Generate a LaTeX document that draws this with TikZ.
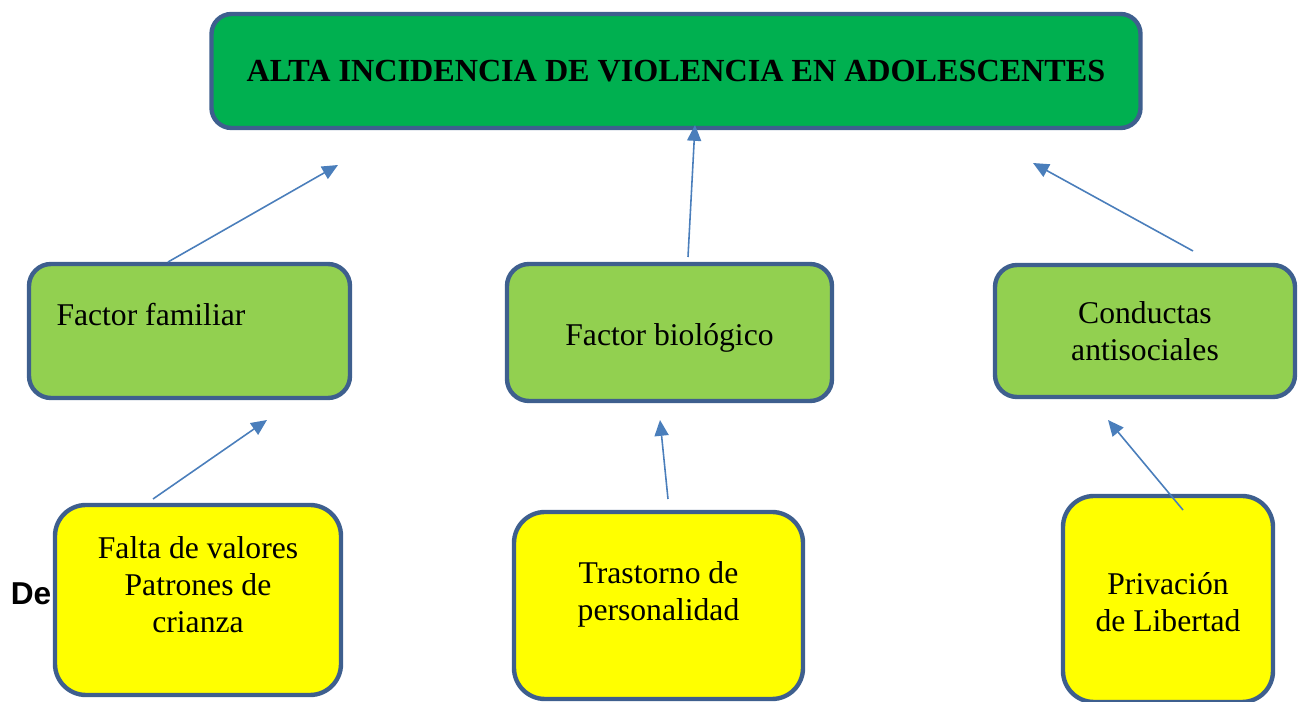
\documentclass[tikz,border=0pt]{standalone}
\usepackage{fontspec}
\setmainfont{Liberation Serif}
\setsansfont{Liberation Sans}
\usepackage{tikz}
\usetikzlibrary{positioning,arrows.meta}
\definecolor{edgeblue}{HTML}{3E5F8E}
\definecolor{arrowblue}{HTML}{4A7EBB}
\definecolor{topgreen}{HTML}{00B050}
\definecolor{causegreen}{HTML}{92D050}
\definecolor{rootyellow}{HTML}{FFFF00}

\begin{document}
\begin{tikzpicture}[
 box/.style={draw=edgeblue,line width=2.5pt,align=center,font=\fontsize{18}{21}\selectfont,inner sep=0pt},
 effect/.style={box,fill=topgreen,rounded corners=0.4cm,font=\fontsize{18.3}{21}\selectfont\bfseries},
 cause/.style={box,fill=causegreen,rounded corners=0.44cm},
 root/.style={box,fill=rootyellow,rounded corners=0.62cm},
 txt/.style={align=center,font=\fontsize{18}{21}\selectfont},
 arr/.style={-{Triangle[length=9pt,width=8pt]},draw=arrowblue,line width=0.9pt}]
\useasboundingbox (0,0) rectangle (26.2,-14.04);
\node[effect,minimum width=18.58cm,minimum height=2.28cm] (titulo) at (13.52,-1.42) {ALTA INCIDENCIA DE VIOLENCIA EN ADOLESCENTES};
% causas directas
\node[cause,minimum width=6.42cm,minimum height=2.68cm,
 label={[txt,anchor=west,xshift=0.47cm,yshift=0.32cm]west:Factor familiar}] (familiar) at (3.79,-6.62) {};
\node[cause,minimum width=6.5cm,minimum height=2.74cm,
 label={[txt,yshift=-0.1cm]center:Factor biológico}] (biologico) at (13.39,-6.65) {};
\node[cause,minimum width=6.0cm,minimum height=2.64cm] (conductas) at (22.9,-6.62) {Conductas\\antisociales};
% causas de fondo
\node[root,minimum width=5.72cm,minimum height=3.8cm,
 label={[txt,yshift=0.3cm]center:Falta de valores\\Patrones de\\crianza}] (valores) at (3.96,-12.0) {};
\node[root,minimum width=5.78cm,minimum height=3.74cm,
 label={[txt,yshift=0.22cm]center:Trastorno de\\personalidad}] (trastorno) at (13.17,-12.11) {};
\node[root,minimum width=4.2cm,minimum height=4.12cm,
 label={[txt,yshift=-0.06cm]center:Privación\\de Libertad}] (privacion) at (23.36,-11.98) {};
\node[font=\sffamily\bfseries\fontsize{18}{21}\selectfont,inner sep=0pt] (de) at (0.62,-11.88) {De};
% extremos sueltos de las flechas
\coordinate (familiar-tail) at (3.36,-5.24); \coordinate (familiar-tip) at (6.76,-3.30);
\coordinate (biologico-tail) at (13.76,-5.14); \coordinate (biologico-tip) at (13.90,-2.50);
\coordinate (conductas-tail) at (23.86,-5.02); \coordinate (conductas-tip) at (20.66,-3.26);
\coordinate (valores-tail) at (3.06,-9.98); \coordinate (valores-tip) at (5.34,-8.40);
\coordinate (trastorno-tail) at (13.36,-9.98); \coordinate (trastorno-tip) at (13.20,-8.40);
\coordinate (privacion-tail) at (23.66,-10.20); \coordinate (privacion-tip) at (22.16,-8.40);
\draw[arr] (familiar-tail)--(familiar-tip); \draw[arr] (biologico-tail)--(biologico-tip); \draw[arr] (conductas-tail)--(conductas-tip);
\draw[arr] (valores-tail)--(valores-tip); \draw[arr] (trastorno-tail)--(trastorno-tip); \draw[arr] (privacion-tail)--(privacion-tip);
\end{tikzpicture}
\end{document}
